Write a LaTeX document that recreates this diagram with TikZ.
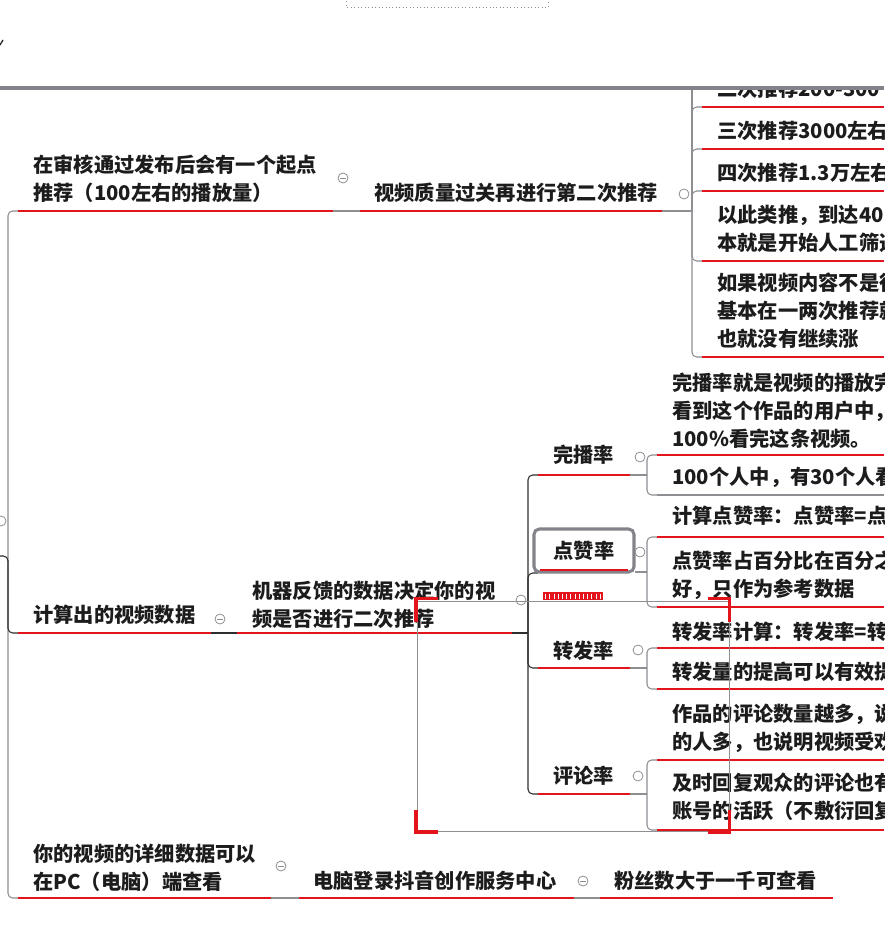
\documentclass[tikz,border=0pt]{standalone}
\usepackage{fontspec}
\setmainfont{Noto Sans CJK SC}
\definecolor{ulred}{HTML}{E3141B}
\definecolor{linegray}{HTML}{8E8E93}
\definecolor{ink}{HTML}{1C1C1C}
\definecolor{darkline}{HTML}{2E2E2E}
\definecolor{bargray}{HTML}{83838B}
\begin{document}
\begin{tikzpicture}[x=0.75pt,y=-0.75pt,
  txt/.style={anchor=west,inner sep=0pt,font=\bfseries\fontsize{15.2}{21}\selectfont,align=left,text=ink},
  ctxt/.style={txt,anchor=center},
  ul/.style={draw=ulred,line width=1.9pt},
  conn/.style={draw=linegray,line width=0.8pt,rounded corners=3.5pt},
  dconn/.style={draw=darkline,line width=0.8pt,rounded corners=3.5pt},
  fold/.style={circle,draw=linegray,fill=white,line width=0.6pt,minimum size=7.5pt,inner sep=0pt},
  foldminus/.style={fold,path picture={\draw[linegray,line width=0.6pt] ([xshift=-2pt]path picture bounding box.center) -- ([xshift=2pt]path picture bounding box.center);}},
  corner/.style={draw=ulred,line width=2.3pt}]
\useasboundingbox (0,0) rectangle (884,944);
\clip (0,0) rectangle (884,944);

% ---------- connectors ----------
\coordinate (spTop) at (8,211);
\coordinate (spBot) at (8,898);
\draw[conn] (18,211) -- (spTop) -- (spBot) -- (18,898);
\draw[dconn] (0,556) -- (8,556) -- (8,633) -- (18,633);
\draw[conn] (333,211) -- (360,211);
\draw[conn] (662,211) -- (692,211);
\coordinate (bh) at (692,211);
\draw[conn] (bh) -- (692,70);
\foreach \y in {107,149,191,261,357} \draw[conn] (bh) -- (692,\y) -- (702,\y);
\draw[dconn] (211,633) -- (237,633);
\draw[dconn] (512,633) -- (528,633);
\coordinate (dh) at (528,633);
\foreach \y in {475,573,668,794} \draw[dconn] (dh) -- (528,\y) -- (538,\y);
\coordinate (d1h) at (647,475);
\draw[conn] (630,475) -- (d1h);
\foreach \y in {455,495} \draw[conn] (d1h) -- (647,\y) -- (657,\y);
\coordinate (d2h) at (647,572);
\draw[conn] (635,572) -- (d2h);
\foreach \y in {537,607} \draw[conn] (d2h) -- (647,\y) -- (657,\y);
\coordinate (d3h) at (647,668);
\draw[conn] (630,668) -- (d3h);
\foreach \y in {648,689} \draw[conn] (d3h) -- (647,\y) -- (657,\y);
\coordinate (d4h) at (647,794);
\draw[conn] (630,794) -- (d4h);
\foreach \y in {760,830} \draw[conn] (d4h) -- (647,\y) -- (657,\y);
\draw[conn] (271,898) -- (299,898);
\draw[conn] (574,898) -- (600,898);

% ---------- underlines ----------
\draw[ul] (18,211) -- (333,211);
\draw[ul] (360,211) -- (662,211);
\foreach \y in {107,149,191,261,357} \draw[ul] (702,\y) -- (884,\y);
\draw[ul] (18,633) -- (211,633);
\draw[ul] (237,633) -- (512,633);
\foreach \y in {475,668,794} \draw[ul] (538,\y) -- (630,\y);
\draw[ul] (657,455) -- (884,455);
\draw[conn] (657,495) -- (884,495);
\foreach \y in {537,607,648,689,760,830} \draw[ul] (657,\y) -- (884,\y);
\draw[ul] (18,898) -- (271,898);
\draw[ul] (299,898) -- (574,898);
\draw[ul] (600,898) -- (833,898);

% ---------- topics ----------
\node[txt] (tA) at (33,179) {在审核通过发布后会有一个起点\\推荐（100左右的播放量）};
\node[txt] (tB) at (374,193) {视频质量过关再进行第二次推荐};
\node[txt] (tB1) at (717,89) {二次推荐200-300};
\node[txt] (tB2) at (717,131) {三次推荐3000左右};
\node[txt] (tB3) at (717,173) {四次推荐1.3万左右};
\node[txt] (tB4) at (717,229) {以此类推，到达40\\本就是开始人工筛选};
\node[txt] (tB5) at (717,311) {如果视频内容不是很\\基本在一两次推荐就\\也就没有继续涨};

\node[txt] (tC) at (33,615) {计算出的视频数据};
\node[txt] (tD) at (252,605) {机器反馈的数据决定你的视\\频是否进行二次推荐};

\node[ctxt] (tD1) at (583.5,455) {完播率};
\node[txt] (tD1a) at (672,411) {完播率就是视频的播放完\\看到这个作品的用户中，\\100\%看完这条视频。};
\node[txt] (tD1b) at (672,477) {100个人中，有30个人看};

\draw[draw=bargray,line width=2.3pt,rounded corners=4pt,fill=white] (534,529) rectangle (634,572);
\draw[ulred,line width=1.5pt] (540,569.5) -- (628,569.5);
\node[ctxt] (tD2) at (584,551) {点赞率};
\node[txt] (tD2a) at (672,516) {计算点赞率：点赞率=点};
\node[txt] (tD2b) at (672,575) {点赞率占百分比在百分之\\好，只作为参考数据};

\node[ctxt] (tD3) at (583.5,651) {转发率};
\node[txt] (tD3a) at (672,632) {转发率计算：转发率=转};
\node[txt] (tD3b) at (672,672) {转发量的提高可以有效提};

\node[ctxt] (tD4) at (583.5,776) {评论率};
\node[txt] (tD4a) at (672,728) {作品的评论数量越多，说\\的人多，也说明视频受欢};
\node[txt] (tD4b) at (672,797) {及时回复观众的评论也有\\账号的活跃（不敷衍回复};

\node[txt] (tE) at (33,868) {你的视频的详细数据可以\\在PC（电脑）端查看};
\node[txt] (tF) at (313,881) {电脑登录抖音创作服务中心};
\node[txt] (tG) at (614,881) {粉丝数大于一千可查看};

% ---------- fold markers ----------
\node[fold] (c0) at (1,521) {};
\node[foldminus] (c1) at (343,178) {};
\node[fold] (c2) at (684,194) {};
\node[foldminus] (c3) at (220,619) {};
\node[fold] (c4) at (521,600) {};
\node[fold] (c5) at (640,457) {};
\node[fold] (c6) at (640,552) {};
\node[fold] (c7) at (638,650) {};
\node[fold] (c8) at (638,776) {};
\node[foldminus] (c9) at (281,866) {};
\node[foldminus] (c10) at (583,881) {};

% ---------- selection overlay ----------
\draw[linegray,line width=0.75pt] (417,601) rectangle (729,831);
\draw[corner] (416,622) -- (416,598.5) -- (438,598.5);
\draw[corner] (708,598.5) -- (729.5,598.5) -- (729.5,622);
\draw[corner] (416,810) -- (416,832) -- (438,832);
\draw[corner] (708,832) -- (729.5,832) -- (729.5,810);
\fill[ulred] (543,592) rectangle (603,600);
\foreach \i in {0,...,13} \draw[white,line width=0.6pt] (545.5+4.2*\i,594) -- (545.5+4.2*\i,598.5);

% ---------- window top ----------
\fill[white] (0,0) rectangle (884,87);
\draw[bargray,line width=2.4pt] (0,88) -- (884,88);
\draw[linegray,line width=0.6pt,dotted] (346,-2) rectangle (548,7);
\draw[ink,line width=0.9pt] (0,45) -- (3,40);
\end{tikzpicture}
\end{document}
